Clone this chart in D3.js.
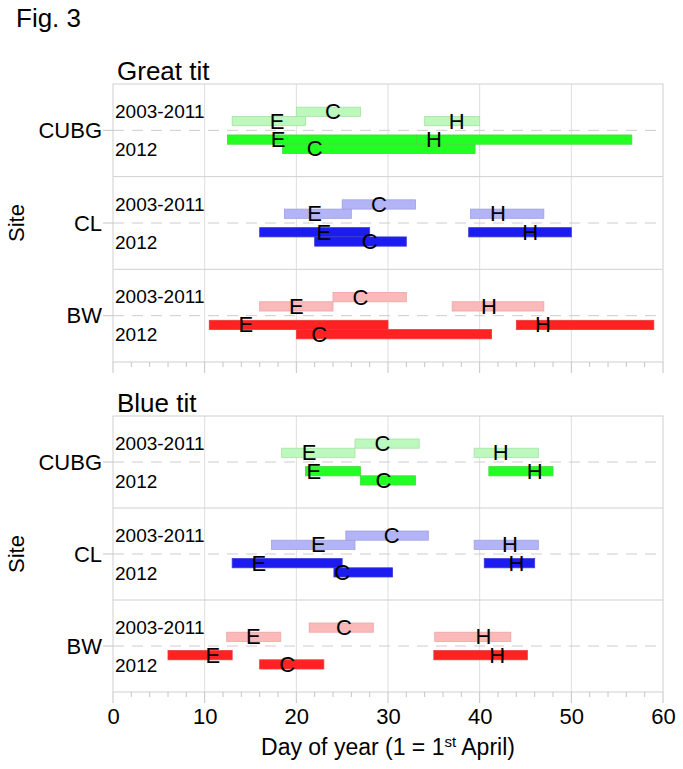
<!DOCTYPE html>
<html>
<head>
<meta charset="utf-8">
<script src="https://cdn.jsdelivr.net/npm/d3@7"></script>
<style>
  html, body { margin: 0; padding: 0; background: #fff; }
  svg { display: block; }
  text { font-family: "Liberation Sans", Arial, Helvetica, sans-serif; fill: #000; }
</style>
</head>
<body>
<svg id="chart" width="683" height="769"></svg>
<script>
// ---------------- DATA ----------------
const sites = ["CUBG", "CL", "BW"];
const stages = ["E", "C", "H"];
const periods = ["2003-2011", "2012"];
const speciesNames = ["Great tit", "Blue tit"];
const xTicks = [0, 10, 20, 30, 40, 50, 60];

// each entry: [start day, end day, label (median) day], order: site x stage (E, C, H)
const greatTit2003 = [
  [13.0, 21.0, 17.9], [20.0, 27.0, 24.0], [34.0, 40.0, 37.5],   // CUBG
  [18.7, 26.0, 22.0], [25.0, 33.0, 29.0], [39.0, 47.0, 42.0],   // CL
  [16.0, 24.0, 20.0], [24.0, 32.0, 27.0], [37.0, 47.0, 41.0]    // BW
];
const greatTit2012 = [
  [12.5, 33.1, 18.0], [18.5, 39.5, 22.0], [33.1, 56.6, 35.0],
  [16.0, 28.0, 23.0], [22.0, 32.0, 28.0], [38.8, 50.0, 45.5],
  [10.5, 30.0, 14.5], [20.0, 41.3, 22.5], [44.0, 59.0, 46.9]
];
const blueTit2003 = [
  [18.4, 26.4, 21.4], [26.4, 33.4, 29.4], [39.4, 46.4, 42.3],
  [17.3, 26.4, 22.4], [25.4, 34.4, 30.4], [39.4, 46.4, 43.3],
  [12.4, 18.3, 15.3], [21.4, 28.4, 25.2], [35.1, 43.4, 40.4]
];
const blueTit2012 = [
  [21.0, 27.0, 21.9], [27.0, 33.0, 29.5], [41.0, 48.0, 46.0],
  [13.0, 25.0, 15.9], [24.1, 30.5, 25.0], [40.5, 46.0, 44.0],
  [6.0, 13.0, 10.9], [16.0, 23.0, 19.0], [35.0, 45.2, 41.9]
];

// ---------------- STYLE ----------------
const siteColors = {
  CUBG: { "2003-2011": ["#bdf8bd", "#a6e2a6"], "2012": ["#22ff22", "#3fdc3f"] },
  CL:   { "2003-2011": ["#b3b3f7", "#a0a0e4"], "2012": ["#1c1cf0", "#3a3ad6"] },
  BW:   { "2003-2011": ["#fbb9b9", "#e8a6a6"], "2012": ["#ff2222", "#e63c3c"] }
};
// vertical band (in site units) for each period/stage, relative to site centre
const bandOffsets = {
  "2003-2011": { E: [-0.15, -0.05], C: [-0.25, -0.15], H: [-0.15, -0.05] },
  "2012":      { E: [0.05, 0.15],  C: [0.15, 0.25],  H: [0.05, 0.15] }
};

const svg = d3.select("#chart");
const x = d3.scaleLinear().domain([0, 60]).range([113, 663]);
const gridColor = "#dedede";
const frameColor = "#cfcfcf";

svg.append("text").attr("x", 16).attr("y", 27).attr("font-size", 26).text("Fig. 3");

const panels = [
  { name: speciesNames[0], top: 84, bottom: 362, data: { "2003-2011": greatTit2003, "2012": greatTit2012 }, axis: false },
  { name: speciesNames[1], top: 416, bottom: 692, data: { "2003-2011": blueTit2003, "2012": blueTit2012 }, axis: true }
];

panels.forEach(p => {
  const y = d3.scaleLinear().domain([0, sites.length]).range([p.top, p.bottom]);
  const g = svg.append("g");

  // title
  svg.append("text").attr("x", 117).attr("y", p.top - 4).attr("font-size", 26).text(p.name);

  // vertical grid
  g.selectAll("line.grid").data(xTicks.slice(1, -1)).join("line")
    .attr("x1", d => x(d)).attr("x2", d => x(d))
    .attr("y1", p.top).attr("y2", p.bottom)
    .attr("stroke", gridColor).attr("stroke-width", 1);

  // row separators
  g.selectAll("line.sep").data(d3.range(1, sites.length)).join("line")
    .attr("x1", x(0)).attr("x2", x(60))
    .attr("y1", d => y(d)).attr("y2", d => y(d))
    .attr("stroke", frameColor).attr("stroke-width", 1);

  // frame
  g.append("rect").attr("x", x(0)).attr("y", p.top)
    .attr("width", x(60) - x(0)).attr("height", p.bottom - p.top)
    .attr("fill", "none").attr("stroke", frameColor).attr("stroke-width", 1);

  // ticks under the panel
  const minor = d3.range(0, 61, 2);
  g.selectAll("line.tk").data(minor).join("line")
    .attr("x1", d => x(d)).attr("x2", d => x(d))
    .attr("y1", p.bottom).attr("y2", d => p.bottom + (d % 10 === 0 ? 11 : 5))
    .attr("stroke", "#c4c4c4").attr("stroke-width", 1);

  sites.forEach((site, si) => {
    const cy = y(si + 0.5);
    // dashed centre line
    g.append("line").attr("x1", x(0)).attr("x2", x(60)).attr("y1", cy).attr("y2", cy)
      .attr("stroke", "#cccccc").attr("stroke-width", 1).attr("stroke-dasharray", "11,8");
    // site tick
    g.append("line").attr("x1", x(0) - 10).attr("x2", x(0)).attr("y1", cy).attr("y2", cy)
      .attr("stroke", "#c4c4c4").attr("stroke-width", 1);
    // site label
    g.append("text").attr("x", 102).attr("y", cy).attr("font-size", 22)
      .attr("text-anchor", "end").attr("dominant-baseline", "central").text(site);
    // period labels
    g.append("text").attr("x", 115).attr("y", cy - 12.5).attr("font-size", 19).text(periods[0]);
    g.append("text").attr("x", 115).attr("y", cy + 25.5).attr("font-size", 19).text(periods[1]);

    // bars
    const bars = [];
    periods.forEach(per => {
      stages.forEach((st, k) => {
        const v = p.data[per][si * 3 + k];
        const off = bandOffsets[per][st];
        bars.push({ per, st, start: v[0], end: v[1], lab: v[2], y0: y(si + 0.5 + off[0]), y1: y(si + 0.5 + off[1]) });
      });
    });
    g.selectAll(null).data(bars).join("rect")
      .attr("x", d => x(d.start)).attr("width", d => x(d.end) - x(d.start))
      .attr("y", d => d.y0).attr("height", d => d.y1 - d.y0)
      .attr("fill", d => siteColors[site][d.per][0])
      .attr("stroke", d => siteColors[site][d.per][1]).attr("stroke-width", 0.8);
    g.selectAll(null).data(bars).join("text")
      .attr("x", d => x(d.lab)).attr("y", d => (d.y0 + d.y1) / 2)
      .attr("font-size", 22).attr("text-anchor", "middle").attr("dominant-baseline", "central")
      .text(d => d.st);
  });

  // Site axis label
  svg.append("text")
    .attr("transform", `translate(16,${(p.top + p.bottom) / 2}) rotate(-90)`)
    .attr("font-size", 22).attr("text-anchor", "middle").attr("dominant-baseline", "central")
    .text("Site");

  if (p.axis) {
    const ax = d3.axisBottom(x).tickValues(xTicks).tickSize(0).tickPadding(0);
    const axG = svg.append("g").attr("transform", `translate(0,${p.bottom})`).call(ax);
    axG.select(".domain").remove();
    axG.selectAll("text").attr("font-size", 22).attr("dy", null).attr("y", 32)
      .attr("font-family", "Liberation Sans, Arial, sans-serif").attr("fill", "#000");
  }
});

// x axis title
const t = svg.append("text").attr("x", (x(0) + x(60)) / 2).attr("y", 755)
  .attr("font-size", 23).attr("text-anchor", "middle");
t.append("tspan").text("Day of year (1 = 1");
t.append("tspan").attr("font-size", 15).attr("dy", -8).text("st");
t.append("tspan").attr("dy", 8).text(" April)");
</script>
</body>
</html>
